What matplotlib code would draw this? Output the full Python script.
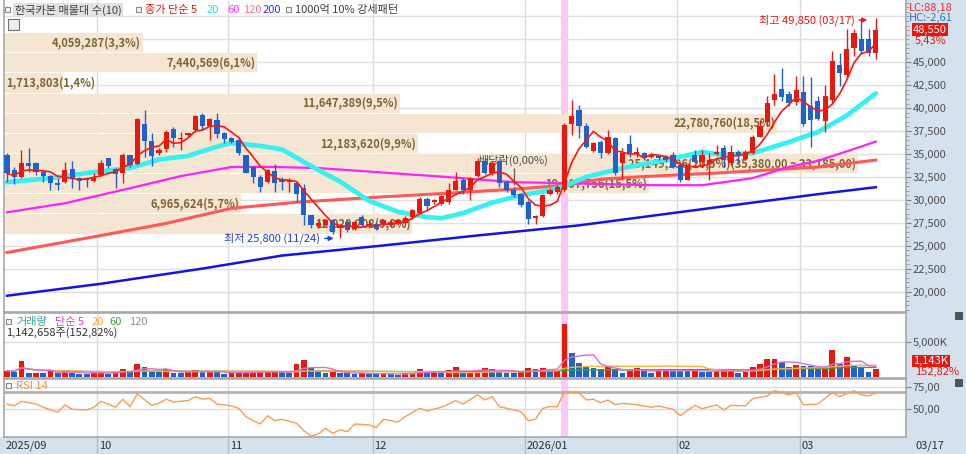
import matplotlib
matplotlib.use("Agg")
import matplotlib.pyplot as plt
from matplotlib.patches import Rectangle
from matplotlib.lines import Line2D
import numpy as np
import pandas as pd

plt.rcParams['font.family'] = ['Noto Sans CJK KR', 'DejaVu Sans']
plt.rcParams['font.size'] = 8

#------------------------------------------------------------------------------
#                   data
#------------------------------------------------------------------------------
month_labels = ['2025/09', '10', '11', '12', '2026/01', '02', '03']
month_first = [0, 13, 31, 51, 72, 93, 110]     # candle index of first day

opens = [34890, 33250, 32450, 34050, 33980, 33060, 32590, 31860, 31970, 33320,
         32330, 32330, 32080, 32700, 34530, 33390, 32880, 34890, 33900, 38290,
         36460, 35070, 35510, 37700, 36640, 37080, 37630, 39270, 38000, 38730,
         37340, 36720, 36530, 34890, 33540, 32440, 31970, 33170, 32220, 31970,
         31860, 31240, 28320, 27200, 27220, 27770, 26960, 27580, 26850, 28130,
         27110, 27400, 27220, 27220, 27400, 27480, 28130, 28570, 30140, 29780,
         29520, 29780, 31130, 32150, 31050, 32590, 34270, 32880, 34270, 31970,
         31130, 30620, 29780, 28060, 28200, 30690, 30870, 31050, 38290, 39750,
         38000, 35370, 36350, 35070, 36720, 33980, 36100, 35000, 35070, 34710,
         34780, 34780, 34890, 33800, 32220, 34890, 34160, 33900, 35000, 35620,
         33980, 35260, 34420, 35070, 36900, 38500, 40900, 42050, 41540, 40630,
         41720, 40190, 40740, 38650, 40920, 44750, 43660, 46580, 47490, 47490,
         46050]
highs = [35100, 33600, 35440, 35620, 34160, 33250, 32700, 32330, 34160, 34270,
         32520, 32520, 32880, 34340, 34530, 33430, 35070, 34890, 38910, 39820,
         37270, 35620, 37630, 37990, 37450, 37340, 39270, 39460, 38910, 39460,
         37450, 36900, 36720, 34890, 33680, 32700, 33320, 33900, 32520, 32330,
         31970, 31700, 28320, 27750, 27950, 27950, 27400, 27770, 27770, 28320,
         27770, 27580, 27950, 27770, 27950, 28200, 29050, 30320, 30320, 30140,
         30500, 31790, 33060, 32330, 32520, 34530, 34530, 34270, 34340, 32150,
         31400, 30800, 29960, 28300, 30690, 31240, 31600, 38360, 40920, 40370,
         38360, 36350, 36530, 37630, 36900, 35620, 37080, 35800, 35260, 35070,
         34890, 34890, 35260, 33980, 33980, 35440, 35440, 35070, 35990, 35990,
         35990, 35440, 35440, 37080, 38730, 41280, 43700, 44400, 41830, 43480,
         43480, 43400, 41280, 42560, 46220, 46030, 48590, 48590, 49690, 48590,
         49850]
lows = [31970, 31680, 32330, 33060, 32700, 31970, 31130, 31130, 31790, 31240,
        31130, 31420, 31970, 32590, 33430, 31240, 31790, 33610, 33800, 34710,
        33690, 34890, 35260, 35800, 35440, 36900, 37450, 37630, 36540, 36720,
        36240, 36170, 34890, 32880, 31790, 30870, 31860, 30870, 31060, 30870,
        29780, 27220, 26960, 26950, 27100, 26300, 25800, 26490, 26670, 27110,
        26960, 26670, 27110, 27110, 27220, 27400, 27950, 28500, 28860, 29590,
        29410, 29590, 31050, 30690, 29960, 32440, 32810, 32700, 31420, 30870,
        30320, 29200, 27400, 27400, 28130, 30510, 30690, 30870, 37080, 36720,
        35620, 35260, 34530, 35000, 32700, 32150, 34710, 34710, 34340, 34530,
        34340, 34160, 33430, 31970, 32150, 33980, 33610, 32150, 34890, 33540,
        33800, 33980, 34340, 35000, 36830, 38000, 40300, 40800, 40190, 40370,
        38070, 35800, 38730, 37450, 40550, 42380, 43290, 45670, 45850, 45670,
        45380]
closes = [32880, 32450, 34050, 33690, 33060, 32590, 31860, 31640, 33250, 32330,
          32080, 32150, 32520, 34050, 33690, 32810, 34890, 33800, 38840, 36460,
          34780, 35440, 37450, 36720, 36790, 37340, 39170, 38000, 38800, 37190,
          36610, 36350, 35070, 32950, 32440, 31420, 33250, 31860, 31970, 32220,
          30690, 28320, 27220, 27450, 27770, 26490, 27110, 26670, 27580, 27220,
          27400, 26850, 27770, 27580, 27770, 28060, 28860, 30140, 29300, 29960,
          30400, 31130, 32080, 31050, 32330, 34270, 32880, 33980, 31790, 31050,
          30510, 29410, 27950, 28200, 30510, 31050, 31420, 38180, 39170, 38000,
          35800, 36170, 35070, 36830, 32880, 35070, 35070, 35260, 34530, 34890,
          34530, 34340, 33610, 32150, 33800, 34160, 34890, 34340, 35260, 34340,
          35260, 34890, 35260, 36830, 38070, 40600, 41560, 41200, 40560, 41940,
          38290, 38730, 38800, 41280, 45120, 43840, 46400, 48230, 46220, 46050,
          48550]
# volume in thousand shares
volumes = [950, 760, 2380, 620, 630, 610, 900, 570, 900, 670,
           520, 500, 710, 720, 520, 760, 1240, 760, 1860, 1520,
           760, 740, 1140, 620, 600, 710, 1100, 710, 760, 710,
           520, 720, 730, 740, 760, 770, 780, 790, 710, 570,
           1860, 2480, 1290, 760, 620, 760, 620, 600, 520, 620,
           520, 430, 520, 430, 400, 620, 670, 1140, 620, 720,
           620, 1000, 1520, 670, 680, 1050, 1290, 1140, 810, 670,
           660, 700, 1290, 1140, 1290, 1050, 1060, 7620, 3430, 2090,
           1620, 1290, 1140, 1430, 1140, 570, 950, 1290, 950, 670,
           950, 1050, 950, 940, 930, 950, 810, 800, 950, 960,
           970, 670, 810, 1430, 1900, 2670, 2680, 2240, 1430, 1760,
           1620, 1610, 1140, 1150, 3900, 1900, 2860, 1620, 1290, 747.7,
           1142.658]

# moving averages read as points (candle index, price)
ma20_idx = [0, 6, 12, 17, 21, 25, 29, 31, 35, 38, 42, 46, 50, 54, 58, 60, 63,
            67, 71, 74, 77, 80, 85, 91, 96, 99, 103, 108, 112, 116, 120]
ma20_val = [31930, 32370, 33030, 33470, 34400, 34800, 35800, 36200, 35880, 35500,
            33690, 32000, 29900, 28700, 28120, 28000, 28560, 29700, 30510, 30900,
            31500, 32500, 33450, 34350, 35220, 34900, 35100, 36300, 37400, 39200, 41600]
ma60_idx = [0, 8, 17, 24, 31, 36, 43, 51, 61, 70, 77, 89, 96, 103, 108, 112, 116, 120]
ma60_val = [28640, 29630, 31270, 32590, 33580, 33600, 33470, 33030, 32480, 31930,
            31820, 31600, 31600, 32370, 33600, 34250, 35300, 36350]
ma120_idx = [0, 13, 22, 31, 40, 51, 61, 70, 77, 82, 89, 98, 105, 112, 120]
ma120_val = [24260, 26120, 27440, 29080, 29740, 30290, 30730, 31160, 31600, 32260,
             32590, 32920, 33250, 33580, 34340]
ma200_idx = [0, 13, 27, 38, 52, 65, 79, 98, 112, 120]
ma200_val = [19550, 20860, 22510, 23930, 25030, 26120, 27220, 29190, 30620, 31380]

rsi_idx = [0, 1, 2, 4, 5, 7, 8, 9, 11, 12, 13, 15, 16, 17, 18, 20, 21, 22, 23, 25,
           26, 27, 28, 29, 31, 32, 33, 34, 35, 36, 37, 38, 40, 41, 42, 43, 44, 45, 46, 47,
           48, 50, 51, 52, 54, 55, 57, 58, 60, 61, 62, 63, 65, 66, 67, 68, 71, 72, 73, 74,
           75, 76, 77, 79, 80, 81, 82, 83, 84, 85, 87, 89, 90, 92, 93, 95, 96, 98, 99, 100,
           102, 103, 105, 106, 107, 108, 109, 110, 112, 114, 115, 117, 118, 119, 120]
rsi_val = [56.0, 53.8, 59.1, 56.0, 52.3, 46.6, 54.9, 50.0, 49.2, 52.3, 59.1, 52.3, 61.4, 53.0,
           67.4, 54.5, 56.8, 61.4, 58.3, 59.8, 64.3, 61.4, 62.5, 56.0, 53.8, 51.1, 41.6, 37.0,
           33.3, 42.7, 37.0, 38.6, 34.1, 25.7, 19.7, 21.9, 28.4, 22.7, 26.5, 24.6, 33.3, 32.2,
           29.1, 38.6, 35.6, 41.6, 51.1, 48.1, 52.3, 56.0, 59.8, 56.0, 66.3, 60.6, 64.3, 53.0,
           47.3, 37.0, 38.6, 51.1, 53.0, 53.0, 69.7, 68.9, 60.6, 61.4, 57.5, 60.6, 55.2, 56.8,
           55.2, 52.3, 53.8, 50.0, 42.7, 54.5, 50.7, 54.9, 49.2, 54.5, 53.8, 62.1, 65.1, 71.2,
           68.9, 66.3, 68.9, 55.2, 56.0, 68.9, 64.3, 71.2, 66.3, 65.1, 68.9]

# price-volume bands (매물대), top to bottom
band_vol = [4059287, 7440569, 1713803, 11647389, 22780760,
            12183620, 25149296, 19007756, 6965624, 12020208]
band_edges = [48220, 46025, 43830, 41635, 39440, 37245, 35050, 32855, 30660, 28465, 26270]
max_band_range = [35380, 33185]

highlight_idx = 77
ex_div_idx = 70
hi_date, lo_date = '03/17', '11/24'

#------------------------------------------------------------------------------
#                   helpers
#------------------------------------------------------------------------------
W, H = 966, 454
RED = '#e8180e'
BLUE = '#1f62cc'
BEIGE = '#f4e6d3'
GRID = '#e0e0e0'
SPINE = '#a8a8a8'
SIDE = '#d6e1ee'


def fx(x):
    return x / W


def fy(y):
    return 1 - y / H


def kr(v, d=2):
    # korean HTS style: thousands comma, decimal comma
    return f"{v:,.{d}f}".replace('.', '#').replace('#', ',')


fig = plt.figure(figsize=(W / 100, H / 100), dpi=100)
fig.patches.append(Rectangle((fx(906), 0), 1 - fx(906), 1, transform=fig.transFigure,
                             facecolor=SIDE, edgecolor='none', zorder=-2))
fig.patches.append(Rectangle((0, 0), fx(906), 17 / H, transform=fig.transFigure,
                             facecolor=SIDE, edgecolor='none', zorder=-2))

L, R = 4, 906
ax = fig.add_axes([fx(L), fy(312), (R - L) / W, 312 / H])
axv = fig.add_axes([fx(L), fy(378), (R - L) / W, 65 / H], sharex=ax)
axr = fig.add_axes([fx(L), fy(437), (R - L) / W, 58 / H], sharex=ax)

n = len(closes)
idx = np.arange(n)
o = np.array(opens); h = np.array(highs); l = np.array(lows); c = np.array(closes)
xmin, xmax = -0.41, 124.17
bounds = [b - 0.5 for b in month_first[1:]]

for a in (ax, axv, axr):
    a.set_xlim(xmin, xmax)
    a.tick_params(axis='x', bottom=False, labelbottom=False)
    for s in a.spines.values():
        s.set_color(SPINE)
        s.set_linewidth(1.2)
    a.yaxis.tick_right()
    for b in bounds:
        a.axvline(b, color='#dcdcdc', lw=1, zorder=0)
    a.axvspan(highlight_idx - 0.45, highlight_idx + 0.45, color='#ffc8f2', lw=0, zorder=0.5)
ax.spines['top'].set_visible(False)

#------------------------------------------------------------------------------
#                   price panel
#------------------------------------------------------------------------------
ax.set_ylim(17778, 51786)
for p in range(20000, 50001, 2500):
    ax.axhline(p, color=GRID, lw=1, zorder=0)
ax.set_yticks(range(20000, 45001, 2500))
ax.set_yticklabels([f"{p:,}" for p in range(20000, 45001, 2500)])
ax.set_yticks(np.arange(18000, 51600, 500), minor=True)
ax.tick_params(axis='y', which='major', length=3.5, color='#808080', labelsize=8,
               labelcolor='#505050', pad=1.5)
ax.tick_params(axis='y', which='minor', length=1.8, color='#909090')

# volume profile bands
band_scale = 33.9e-6 / 7.24      # candle units per share
band_left = -0.28
for k, v in enumerate(band_vol):
    top, bot = band_edges[k], band_edges[k + 1]
    ax.barh(bot + 55, v * band_scale, height=(top - bot) - 110, left=band_left,
            align='edge', color=BEIGE, lw=0, zorder=1)
    txt = f"{v:,}({v / sum(band_vol) * 100:.1f}%)".replace('.', ',')
    if v == max(band_vol):
        txt += f"({kr(max_band_range[0])} ~ {kr(max_band_range[1])})"
    mid = (top + bot) / 2
    end = band_left + v * band_scale
    if v * band_scale * 7.24 > 100:
        ax.text(end - 0.25, mid, txt, ha='right', va='center', color='#7d6432',
                fontsize=8, fontweight='bold', zorder=2)
    else:
        ax.text(band_left + 0.2, mid, txt, ha='left', va='center', color='#7d6432',
                fontsize=8, fontweight='bold', zorder=2)

# moving averages
ax.plot(ma200_idx, ma200_val, color='#1414e6', lw=1.8, zorder=3)
ax.plot(ma120_idx, ma120_val, color='#ff5858', lw=2.2, zorder=3)
ax.plot(ma60_idx, ma60_val, color='#ff20ff', lw=1.6, zorder=3)
ax.plot(ma20_idx, ma20_val, color='#38f0f0', lw=3.4, zorder=3, solid_capstyle='round')

# candles
up = c >= o
cols = np.where(up, RED, BLUE)
ax.vlines(idx, l, h, colors=cols, lw=1, zorder=4)
ax.bar(idx, np.maximum(np.abs(c - o), 90), bottom=np.minimum(o, c), width=0.72,
       color=cols, lw=0, zorder=4)
ma5 = pd.Series(c).rolling(5, min_periods=1).mean()
ax.plot(idx, ma5, color='#ff1414', lw=1.2, zorder=5)

# high / low markers
hi_i, lo_i = int(np.argmax(h)), int(np.argmin(l))
ax.annotate('', xy=(hi_i - 0.8, h[hi_i] - 250), xytext=(hi_i - 2.7, h[hi_i] - 250),
            arrowprops=dict(arrowstyle='-|>', color=RED, lw=1, mutation_scale=7), zorder=6)
ax.text(hi_i - 2.9, h[hi_i] - 250, f"최고 {h[hi_i]:,} ({hi_date})", ha='right', va='center',
        color=RED, fontsize=8, zorder=6)
ax.annotate('', xy=(lo_i - 0.5, l[lo_i]), xytext=(lo_i - 2.5, l[lo_i]),
            arrowprops=dict(arrowstyle='-|>', color='#2040d0', lw=1, mutation_scale=7), zorder=6)
ax.text(lo_i - 2.8, l[lo_i], f"최저 {l[lo_i]:,} ({lo_date})", ha='right', va='center',
        color='#2040d0', fontsize=8, zorder=6)

# ex-dividend marker
ax.vlines(ex_div_idx, h[ex_div_idx] + 250, h[ex_div_idx] + 2050, color='#606060', lw=1, zorder=3)
ax.text(ex_div_idx - 4.9, h[ex_div_idx] + 2850, "배당락(0,00%)", ha='left', va='center',
        color='#505050', fontsize=8, zorder=2)

# last price box
ax.text(1.008, c[-1], f"{c[-1]:,}", transform=ax.get_yaxis_transform(), color='white',
        fontsize=8, va='center', ha='left',
        bbox=dict(boxstyle='square,pad=0.12', facecolor=RED, edgecolor='none'))
chg = (c[-1] / c[-2] - 1) * 100
ax.annotate(f"{kr(chg)}%", xy=(1.008, c[-1]), xycoords=ax.get_yaxis_transform(),
            xytext=(1, -8), textcoords='offset points', color=RED, va='center', fontsize=8)
lc = (c[-1] / l.min() - 1) * 100
hc = (c[-1] / h.max() - 1) * 100
fig.text(fx(909), fy(8), f"LC:{kr(lc)}", color='#e03030', fontsize=8, va='center')
fig.text(fx(909), fy(18), f"HC:{kr(hc)}", color='#3070d0', fontsize=8, va='center')


# legend line
def square(x, y):
    fig.patches.append(Rectangle((fx(x), fy(y + 5)), 5 / W, 5 / H, transform=fig.transFigure,
                                 facecolor='#f4f4f4', edgecolor='#888888', lw=0.8, zorder=5))


square(5, 7)
fig.text(fx(15), fy(10), "한국카본 매물대 수(10)", color='#404040', fontsize=8, va='center',
         bbox=dict(boxstyle='square,pad=0.15', facecolor='#e2e2e2', edgecolor='none'))
square(136, 7)
for x, s, col in [(145, "종가 단순 5", RED), (207, "20", '#30e0e0'), (227, "60", '#ff30ff'),
                  (243, "120", '#ff7088'), (263, "200", '#3030ff')]:
    fig.text(fx(x), fy(10), s, color=col, fontsize=8, va='center')
square(286, 7)
fig.text(fx(295), fy(10), "1000억 10% 강세패턴", color='#404040', fontsize=8, va='center')
# small grid icon
fig.patches.append(Rectangle((fx(8), fy(30)), 11 / W, 11 / H, transform=fig.transFigure,
                             facecolor='#eeeeee', edgecolor='#707070', lw=0.8, zorder=5))
for k in (1, 2):
    fig.add_artist(Line2D([fx(8), fx(19)], [fy(19 + k * 3.7)] * 2, color='#707070', lw=0.6))
    fig.add_artist(Line2D([fx(8 + k * 3.7)] * 2, [fy(19), fy(30)], color='#707070', lw=0.6))

#------------------------------------------------------------------------------
#                   volume panel
#------------------------------------------------------------------------------
vol = np.array(volumes)
vcols = [RED if i == 0 or vol[i] > vol[i - 1] else BLUE for i in range(n)]
axv.set_ylim(-100, 9190)
axv.axhline(5000, color=GRID, lw=1, zorder=0)
axv.bar(idx, vol, width=0.8, color=vcols, lw=0, zorder=3)
vs = pd.Series(vol)
axv.plot(idx, vs.rolling(60, min_periods=1).mean(), color='#3aa040', lw=1, zorder=4)
axv.plot(idx, vs.rolling(20, min_periods=1).mean(), color='#f2b43c', lw=1, zorder=4)
axv.plot(idx, vs.rolling(5, min_periods=1).mean(), color='#e868d8', lw=1, zorder=4)
axv.set_yticks([5000])
axv.set_yticklabels(['5,000K'])
axv.tick_params(axis='y', length=3.5, color='#808080', labelsize=8, labelcolor='#505050', pad=1.5)
axv.text(1.008, 0.26, f"{vol[-1]:,.0f}K", transform=axv.transAxes, color='white', fontsize=8,
         va='center', ha='left',
         bbox=dict(boxstyle='square,pad=0.12', facecolor=RED, edgecolor='none'))
axv.text(1.01, 0.09, f"{kr(vol[-1] / vol[-2] * 100)}%", transform=axv.transAxes, color=RED,
         fontsize=8, va='center', ha='left')
square(6, 319)
for x, s, col in [(16, "거래량", '#3aa0a0'), (55, "단순 5", '#e040c0'), (92, "20", '#f0b030'),
                  (109, "60", '#40a040'), (129, "120", '#909090')]:
    fig.text(fx(x), fy(322), s, color=col, fontsize=8, va='center')
fig.text(fx(6), fy(333), f"{vol[-1] * 1000:,.0f}주({kr(vol[-1] / vol[-2] * 100)}%)",
         color='#303030', fontsize=8, va='center')

#------------------------------------------------------------------------------
#                   RSI panel
#------------------------------------------------------------------------------
axr.set_ylim(18.5, 84.4)
axr.axhline(75, color='#dcdcdc', lw=1, zorder=0)
axr.axhline(50, color='#dcdcdc', lw=1, zorder=0)
axr.axhline(70, color='#b4b4b4', lw=2, zorder=1)
axr.plot(rsi_idx, rsi_val, color='#ff9a50', lw=1, zorder=3)
axr.set_yticks([75, 50])
axr.set_yticklabels(['75,00', '50,00'])
axr.tick_params(axis='y', length=3.5, color='#808080', labelsize=8, labelcolor='#505050', pad=1.5)
square(6, 383)
fig.text(fx(16), fy(386), "RSI 14", color='#f09040', fontsize=8, va='center')

# small panel icons on the right
for y in (312, 379):
    fig.patches.append(Rectangle((fx(955), fy(y + 7)), 7 / W, 7 / H, transform=fig.transFigure,
                                 facecolor='#555555', edgecolor='#333333', lw=0.5, zorder=5))

# date strip
label_pos = [xmin + 0.15] + [b + 0.25 for b in bounds]
for pos, lab in zip(label_pos, month_labels):
    axr.text(pos, -0.155, lab, transform=axr.get_xaxis_transform(), ha='left', va='center',
             color='#303030', fontsize=8, clip_on=False)
for b in bounds:
    axr.axvline(b, ymin=-17 / 58, ymax=0, clip_on=False, color='#b0bccb', lw=1)
fig.text(fx(915), fy(446), hi_date, color='#303030', fontsize=8, va='center')

fig.savefig('out.png', dpi=100)
